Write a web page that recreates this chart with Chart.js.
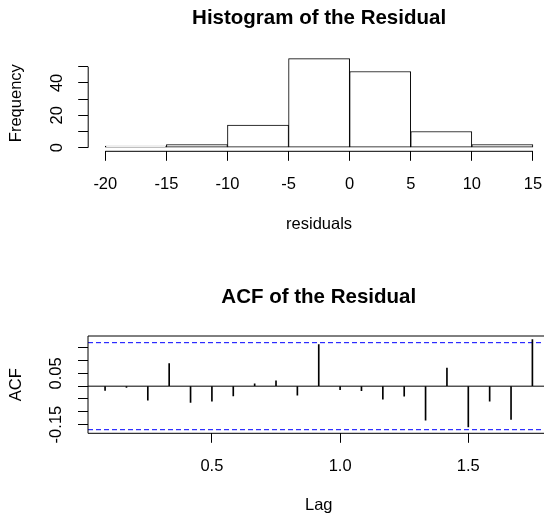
<!DOCTYPE html>
<html>
<head>
<meta charset="utf-8">
<script src="https://cdn.jsdelivr.net/npm/chart.js@4.4.1/dist/chart.umd.min.js"></script>
<style>
  html, body { margin: 0; padding: 0; background: #fff; overflow: hidden; }
  #page { position: relative; width: 544px; height: 516px; overflow: hidden; }
  canvas { position: absolute; left: 0; }
  #histCanvas { top: 0; }
  #acfCanvas { top: 258px; }
</style>
</head>
<body>
<div id="page">
  <canvas id="histCanvas" width="560" height="258"></canvas>
  <canvas id="acfCanvas" width="560" height="258"></canvas>
</div>
<script>
// histogram of the residuals
const histBreaks = [-20, -15, -10, -5, 0, 5, 10, 15];
const histCounts = [1, 2, 14, 55, 47, 10, 2];
const histXTicks = [-20, -15, -10, -5, 0, 5, 10, 15];
const histYTicks = [0, 10, 20, 30, 40, 50];
const histYLabels = ["0", "", "20", "", "40", ""];

// acf of the residuals, monthly lags (in years)
const acfLags = [0.0833, 0.1667, 0.25, 0.3333, 0.4167, 0.5, 0.5833, 0.6667, 0.75, 0.8333, 0.9167,
  1.0, 1.0833, 1.1667, 1.25, 1.3333, 1.4167, 1.5, 1.5833, 1.6667, 1.75];
const acfValues = [-0.017, -0.005, -0.055, 0.088, -0.063, -0.059, -0.038, 0.009, 0.021, -0.035, 0.163,
  -0.014, -0.018, -0.051, -0.039, -0.133, 0.071, -0.159, -0.059, -0.130, 0.182];
const acfBound = 0.170;
const acfXTicks = [0.5, 1.0, 1.5];
const acfXLabels = ["0.5", "1.0", "1.5"];
const acfYTicks = [-0.15, -0.10, -0.05, 0, 0.05, 0.10, 0.15];
const acfYLabels = ["-0.15", "", "", "", "0.05", "", ""];

Chart.defaults.font.family = '"Liberation Sans", Arial, Helvetica, sans-serif';
Chart.defaults.font.size = 16.5;
Chart.defaults.color = "#000";

// R style axes: axis line only between first and last tick, or a full box
const rAxes = {
  id: "rAxes",
  afterDatasetsDraw(chart, args, opts) {
    const ctx = chart.ctx;
    const xs = chart.scales.x;
    const ys = chart.scales.y;
    const a = chart.chartArea;
    ctx.save();
    ctx.strokeStyle = "#000";
    ctx.lineWidth = 1;
    ctx.beginPath();
    if (opts.box) {
      ctx.rect(a.left, a.top, a.right - a.left, a.bottom - a.top);
    } else {
      const yy = a.bottom;
      ctx.moveTo(xs.getPixelForValue(xs.ticks[0].value), yy);
      ctx.lineTo(xs.getPixelForValue(xs.ticks[xs.ticks.length - 1].value), yy);
      const xx = a.left;
      ctx.moveTo(xx, ys.getPixelForValue(ys.ticks[0].value));
      ctx.lineTo(xx, ys.getPixelForValue(ys.ticks[ys.ticks.length - 1].value));
    }
    ctx.stroke();
    ctx.restore();
  }
};

const baseOpts = {
  responsive: false,
  animation: false,
  events: []
};

new Chart(document.getElementById("histCanvas"), {
  type: "bar",
  data: {
    datasets: [{
      data: histCounts.map((c, i) => ({ x: (histBreaks[i] + histBreaks[i + 1]) / 2, y: c })),
      backgroundColor: "#fff",
      borderColor: "#000",
      borderWidth: 1,
      borderSkipped: false,
      barPercentage: 1,
      categoryPercentage: 1
    }]
  },
  options: {
    ...baseOpts,
    layout: { padding: { left: 0, right: 10, top: 0, bottom: 0 } },
    plugins: {
      legend: { display: false },
      tooltip: { enabled: false },
      title: {
        display: true,
        fullSize: false,
        text: "Histogram of the Residual",
        font: { size: 20.5, weight: "bold" },
        padding: { top: 6.5, bottom: 23.9 }
      },
      rAxes: { box: false }
    },
    scales: {
      x: {
        type: "linear",
        min: -21.4,
        max: 16.4,
        offset: false,
        afterBuildTicks: s => { s.ticks = histXTicks.map(v => ({ value: v })); },
        afterFit: s => { s.height = 106.7; },
        ticks: { autoSkip: false, maxRotation: 0, padding: 13.5, callback: v => String(v) },
        grid: { offset: false, drawOnChartArea: false, tickLength: 9.5, color: "#000" },
        border: { display: false },
        title: { display: true, text: "residuals", padding: { top: 0, bottom: 24 } }
      },
      y: {
        min: -2.2,
        max: 57.2,
        afterBuildTicks: s => { s.ticks = histYTicks.map(v => ({ value: v })); },
        afterFit: s => { s.width = 88.2; },
        ticks: {
          autoSkip: false, minRotation: 90, maxRotation: 90, crossAlign: "center", padding: 11.5,
          callback: (v, i) => histYLabels[i]
        },
        grid: { drawOnChartArea: false, tickLength: 10, color: "#000" },
        border: { display: false },
        title: { display: true, text: "Frequency", padding: { top: 7, bottom: 0 } }
      }
    }
  },
  plugins: [rAxes]
});

const acfXMin = 0.0167;
const acfXMax = 1.8167;

new Chart(document.getElementById("acfCanvas"), {
  type: "bar",
  data: {
    datasets: [
      {
        data: acfLags.map((l, i) => ({ x: l, y: [0, acfValues[i]] })),
        backgroundColor: "#000",
        borderWidth: 0,
        barThickness: 1
      },
      {
        type: "line",
        data: [{ x: acfXMin, y: 0 }, { x: acfXMax, y: 0 }],
        borderColor: "#000",
        borderWidth: 1,
        pointRadius: 0
      },
      {
        type: "line",
        data: [{ x: acfXMin, y: acfBound }, { x: acfXMax, y: acfBound }],
        borderColor: "#0000ff",
        borderWidth: 1,
        borderDash: [5, 3],
        pointRadius: 0
      },
      {
        type: "line",
        data: [{ x: acfXMin, y: -acfBound }, { x: acfXMax, y: -acfBound }],
        borderColor: "#0000ff",
        borderWidth: 1,
        borderDash: [5, 3],
        pointRadius: 0
      }
    ]
  },
  options: {
    ...baseOpts,
    layout: { padding: { left: 0, right: 10.5, top: 0, bottom: 0 } },
    plugins: {
      legend: { display: false },
      tooltip: { enabled: false },
      title: {
        display: true,
        fullSize: false,
        text: "ACF of the Residual",
        font: { size: 20.5, weight: "bold" },
        padding: { top: 26.7, bottom: 26.7 }
      },
      rAxes: { box: true }
    },
    scales: {
      x: {
        type: "linear",
        min: acfXMin,
        max: acfXMax,
        offset: false,
        afterBuildTicks: s => { s.ticks = acfXTicks.map(v => ({ value: v })); },
        afterFit: s => { s.height = 82.7; },
        ticks: { autoSkip: false, maxRotation: 0, padding: 13.5, callback: (v, i) => acfXLabels[i] },
        grid: { offset: false, drawOnChartArea: false, tickLength: 9.5, color: "#000" },
        border: { display: false },
        title: { display: true, text: "Lag", padding: { top: 0, bottom: 0.5 } }
      },
      y: {
        min: -0.1841,
        max: 0.1961,
        afterBuildTicks: s => { s.ticks = acfYTicks.map(v => ({ value: v })); },
        afterFit: s => { s.width = 88; },
        ticks: {
          autoSkip: false, minRotation: 90, maxRotation: 90, crossAlign: "center", padding: 3.2,
          callback: (v, i) => acfYLabels[i]
        },
        grid: { drawOnChartArea: false, tickLength: 10, color: "#000" },
        border: { display: false },
        title: { display: true, text: "ACF", padding: { top: 7, bottom: 0 } }
      }
    }
  },
  plugins: [rAxes]
});
</script>
</body>
</html>
